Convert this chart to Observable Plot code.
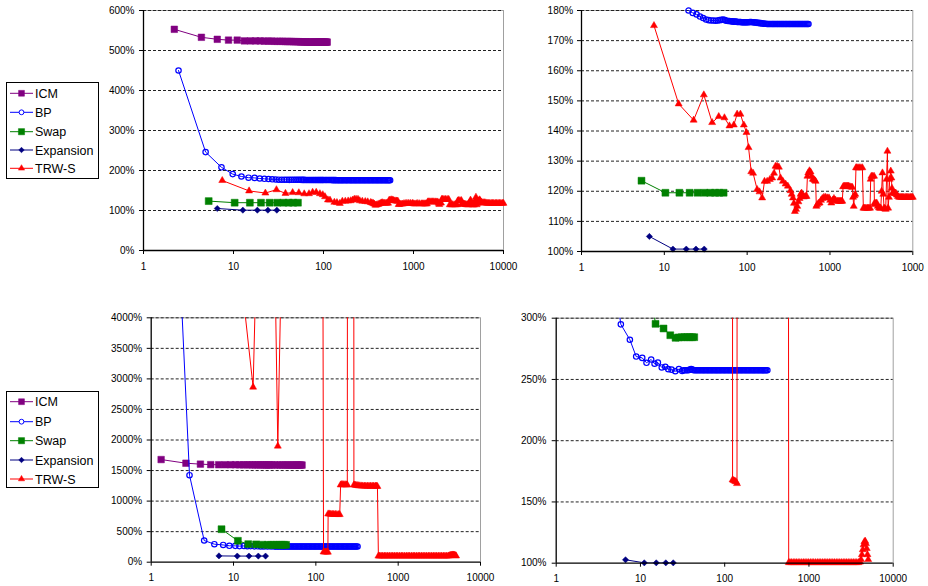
<!DOCTYPE html>
<html><head><meta charset="utf-8">
<script src="https://cdn.jsdelivr.net/npm/d3@7"></script>
<script src="https://cdn.jsdelivr.net/npm/@observablehq/plot@0.6"></script>
<style>
body{margin:0;background:#fff;}
#root{position:relative;width:928px;height:586px;overflow:hidden;font-family:"Liberation Sans",Arial,sans-serif;}
.panel{position:absolute;}
.legend{position:absolute;}
</style></head><body><div id="root"></div>
<script>
// ---- series metadata ----
const seriesNames = ["ICM", "BP", "Swap", "Expansion", "TRW-S"];
const seriesColors = ["#800080", "#0000ff", "#008000", "#000080", "#ff0000"];
const seriesSymbols = ["square", "circle", "square", "diamond2", "triangle"];
const seriesR = [3.7, 2.7, 3.9, 2.8, 2.6];
const seriesFilled = [true, false, true, true, true];

// ---- axis ticks ----
const xTicks = [1, 10, 100, 1000, 10000];
const xLabels = ["1", "10", "100", "1000", "10000"];
const xLabelsTopRight = ["1", "10", "100", "1000", "1000"];
const yTicksTopLeft = [0, 100, 200, 300, 400, 500, 600];
const yTicksTopRight = [100, 110, 120, 130, 140, 150, 160, 170, 180];
const yTicksBottomLeft = [0, 500, 1000, 1500, 2000, 2500, 3000, 3500, 4000];
const yTicksBottomRight = [100, 150, 200, 250, 300];

// ---- top problem: [time, energy %] ----
const topICM = [[2.2,553],[4.4,533],[6.6,528],[8.8,526],[11,526],[13.2,524],[15.4,524],[17.6,524],[19.8,524],[22,523.5],[24.2,523.5],[26.4,523.5],[28.6,523],[30.8,523],[33,523],[35.2,523],[37.4,522.5],[39.6,522.5],[41.8,522.5],[44,522.5],[46.2,522],[48.4,522],[50.6,522],[52.8,522],[55,521.5],[57.2,521.5],[59.4,521.5],[61.6,521.5],[63.8,521.5],[66,521],[68.2,521],[70.4,521],[72.6,521],[74.8,521],[77,521],[79.2,521],[81.4,521],[83.6,521],[85.8,521],[88,521],[90.2,521],[92.4,521],[94.6,521],[96.8,521],[99,521],[101.2,521],[103.4,521],[105.6,521],[107.8,521],[110,521]];
const topBP = [[2.45,450],[4.9,246],[7.35,208],[9.8,191],[12.25,185],[14.7,182],[17.15,181.5],[19.6,180],[22.05,179.2],[24.5,178.7],[26.95,178],[29.4,177.5],[31.85,177],[34.3,176.8],[36.75,176.7],[39.2,176.7],[41.65,176.6],[44.1,176.7],[46.55,176.8],[49,176.9],[51.45,177],[53.9,176.8],[56.35,176.6],[58.8,176.5],[61,176.5],[63.7,176.4],[66,176.4],[68.6,176.3],[71,176.3],[73.5,176.3],[76,176.2],[78.4,176.2],[81,176.2],[83.3,176.2],[86,176.1],[88.2,176.1],[91,176.1],[93.1,176.1],[96,176.1],[98,176.1],[101,176.1],[105,176.1],[108,176.2],[112,176.2],[116,176.1],[120,176.1],[124,176],[128,176],[132,175.9],[137,175.9],[142,175.8],[147,175.8],[152,175.7],[157,175.7],[162,175.6],[168,175.6],[174,175.5],[180,175.5],[186,175.5],[193,175.5],[200,175.5],[206,175.5],[213,175.5],[220,175.5],[228,175.5],[235,175.5],[243,175.5],[251,175.5],[260,175.5],[268,175.5],[277,175.5],[287,175.5],[296,175.5],[306,175.5],[317,175.5],[327,175.5],[338,175.5],[350,175.5],[362,175.5],[374,175.5],[387,175.5],[400,175.5],[413,175.5],[427,175.5],[441,175.5],[456,175.5],[471,175.5],[487,175.5],[503,175.5],[520,175.5],[535,175.5],[550,175.5]];
const topSwap = [[5.3,123.5],[10.3,119.5],[15.2,119.5],[20.2,119.5],[25.2,119.5],[30.6,119.5],[35.8,119.5],[41,119.5],[46,119.5],[52,119.5]];
const topExpansion = [[6.6,105],[12.7,100.8],[18.4,100.8],[24.1,100.8],[30.3,100.8]];
const topTRWS = [[7.5,175],[14.9,149],[22.6,143.6],[30,152],[37.8,142.8],[45.4,144.8],[53.2,144.4],[61.1,141.7],[69,142],[75.7,145.6],[83,145.6],[91.2,142],[98.2,139.5],[104,134.5],[112,126.5],[118,126],[132,120.6],[141,119.8],[151.8,117.8],[162,123.3],[174.6,123.3],[188,123.9],[200.6,124.4],[211,126],[220,128.3],[230,128.3],[241.7,128],[253,124.4],[270,123.3],[291,122.4],[310,121.7],[334,120.2],[345,119],[357,117.8],[367,116],[377,113.3],[390,114],[403,115],[416,116.5],[430,117.6],[442,119],[454,119.4],[470,118.5],[484,118.1],[503,118.3],[522,118.3],[534,125],[547,126.1],[565,126.8],[583,126.4],[600,125],[620,124],[640,123.9],[655,123.6],[671,123.3],[684,115],[700,115.5],[725,116],[750,116.1],[780,117],[808,117.6],[845,118],[887,118],[930,117.8],[973,117.8],[1005,117],[1038,116.1],[1075,117],[1117,117.6],[1170,117],[1226,116.7],[1260,116.7],[1300,116.7],[1340,116.7],[1375,116.7],[1409,116.7],[1440,121.5],[1476,121.7],[1520,121.7],[1570,121.7],[1622,121.7],[1680,121.7],[1740,121.5],[1800,121.4],[1862,121.3],[1900,118],[1935,115],[1975,118.5],[2020,119],[2060,127.8],[2104,127.8],[2180,127.8],[2260,127.8],[2362,127.8],[2462,127.8],[2530,114.4],[2620,114.4],[2720,114.4],[2830,114.4],[2940,114.4],[3047,114.4],[3100,124],[3162,125],[3280,125],[3406,125],[3440,116],[3470,115.6],[3570,116],[3670,116.1],[3780,115],[3900,114.5],[4000,114.4],[4105,114.4],[4200,120],[4300,126.1],[4400,119],[4500,114.4],[4600,114.2],[4710,114],[4820,124],[4940,133.3],[5035,114.4],[5150,118],[5260,124],[5420,126.7],[5520,124.4],[5600,121],[5680,119.4],[5800,119.4],[5950,119.4],[6100,119.2],[6225,119.4],[6400,118.8],[6600,118.3],[6835,118],[7050,118],[7300,118],[7550,118],[7800,118],[8100,118],[8400,118],[8700,118],[9000,118],[9350,118],[9700,118],[10000,118]];

// ---- bottom problem: [time, energy %] ----
const botICM = [[1.32,1680],[2.64,1620],[3.96,1605],[5.28,1597],[6.6,1595],[7.92,1595],[9.24,1595],[10.56,1595],[11.88,1594],[13.2,1594],[14.52,1594],[15.84,1594],[17.16,1593],[18.48,1593],[19.8,1593],[21.12,1593],[22.44,1593],[23.76,1592],[25.08,1592],[26.4,1592],[27.72,1592],[29.04,1592],[31.68,1592],[34.32,1591],[36.96,1591],[39.6,1591],[42.24,1591],[44.88,1591],[47.52,1590],[50.16,1590],[52.8,1590],[55.44,1590],[58.08,1590],[60.72,1590],[63.36,1590],[66,1590],[68,1590]];
const botBP = [[1.46,10200],[2.92,1424],[4.4,355],[5.85,295],[7.49,282.4],[8.9,268.7],[10.5,267.6],[11.8,263.6],[13.4,266.3],[14.7,262.8],[16.1,263.8],[17.9,259.8],[19.7,260.3],[21.4,258.4],[23.4,258],[25.9,256.7],[28.6,258.4],[31.3,257],[32.6,257.5],[34,257.5],[35.5,257.5],[37,257.5],[38.5,258],[40,258.5],[41.5,258],[43,257.5],[44.7,257.5],[46.5,257.5],[48.2,257.5],[50,257.5],[52,257.5],[54,257.5],[56,257.5],[58,257.5],[60.2,257.5],[62.5,257.5],[64.7,257.5],[67,257.5],[69.5,257.5],[72,257.5],[74.7,257.5],[77.5,257.5],[80.2,257.5],[83,257.5],[86,257.5],[89,257.5],[92.5,257.5],[96,257.5],[99.5,257.5],[103,257.5],[107,257.5],[111,257.5],[115,257.5],[119,257.5],[123.5,257.5],[128,257.5],[132.5,257.5],[137,257.5],[142,257.5],[147,257.5],[152.5,257.5],[158,257.5],[164,257.5],[170,257.5],[176.5,257.5],[183,257.5],[189.5,257.5],[196,257.5],[203.5,257.5],[211,257.5],[218.5,257.5],[226,257.5],[234.5,257.5],[243,257.5],[252,257.5],[261,257.5],[270.5,257.5],[280,257.5],[290,257.5],[300,257.5],[310.5,257.5],[321,257.5]];
const botSwap = [[7.15,540],[11.3,350],[15.1,295.4],[18.8,291.6],[22.6,286.1],[26.1,284],[28.5,284.3],[31,284.5],[33.5,284.5],[36,284.5],[38.5,284.5],[41,284.5],[43.5,284.5]];
const botExpansion = [[6.65,102.8],[11.1,100.3],[15.4,100.3],[20,100.3],[24.5,100.3]];
const botTRWS = [[7,7700],[17.3,2865],[26,12500],[34.5,1900],[45,10000],[60,9000],[80,9500],[100,9000],[120,9000],[124,168],[128,167.5],[132,167],[136,166.5],[140,165],[141,790],[146,790],[152,786],[158,785],[165,783],[172,783],[180,781],[188,780],[195,780],[200,1265],[206,1270],[213,1270],[220,1268],[228,1268],[236,1266],[241,1265],[243,9000],[288,9000],[290,1265],[298,1262],[307,1258],[318,1255],[330,1252],[343,1250],[357,1248],[372,1247],[388,1246],[405,1245],[423,1245],[442,1245],[462,1245],[483,1245],[505,1245],[528,1245],[545,1245],[560,1240],[575,100.5],[595,100.5],[620,100.5],[650,100.5],[680,100.5],[710,100.5],[745,100.5],[780,100.5],[820,100.5],[860,100.5],[900,100.5],[945,100.5],[990,100.5],[1040,100.5],[1090,100.5],[1140,100.5],[1200,100.5],[1260,100.5],[1320,100.5],[1380,100.5],[1450,100.5],[1520,100.5],[1590,100.5],[1670,100.5],[1750,100.5],[1830,100.5],[1920,100.5],[2010,100.5],[2110,100.5],[2210,100.5],[2320,100.5],[2430,100.5],[2550,100.5],[2670,100.5],[2800,100.5],[2930,100.5],[3070,100.5],[3220,100.5],[3370,100.5],[3530,100.5],[3700,100.5],[3880,100.5],[4050,101],[4150,103],[4250,107],[4350,111],[4450,115],[4550,117.5],[4650,118],[4750,116],[4850,112],[4950,107],[5050,103]];

const topSeries = [topICM, topBP, topSwap, topExpansion, topTRWS];
const botSeries = [botICM, botBP, botSwap, botExpansion, botTRWS];

const root = document.getElementById("root");
const FONT = '"Liberation Sans", Arial, sans-serif';

function panel(o) {
  const [mt, mr, mb, ml] = o.margins;
  const [y0, y1] = o.yDomain;
  const marks = [
    Plot.ruleY([y1], {stroke: "#a0a0a0", strokeWidth: 1}),
    Plot.ruleX([xTicks[xTicks.length - 1]], {stroke: "#a0a0a0", strokeWidth: 1}),
    Plot.ruleY(o.yTicks.filter(t => t > y0), {stroke: "#222", strokeWidth: 1, strokeDasharray: "3,2"}),
  ];
  o.series.forEach((data, i) => {
    marks.push(Plot.line(data, {x: d => d[0], y: d => d[1], stroke: seriesColors[i], strokeWidth: 1, clip: true}));
    // markers are drawn whole, but only for points that fall inside the value range
    marks.push(Plot.dot(data.filter(d => d[1] >= y0 && d[1] <= y1), {
      x: d => d[0], y: d => d[1], symbol: seriesSymbols[i], r: seriesR[i],
      fill: seriesFilled[i] ? seriesColors[i] : "none",
      stroke: seriesColors[i], strokeWidth: seriesFilled[i] ? 0.5 : 1.2
    }));
  });
  marks.push(
    Plot.ruleX([1], {stroke: "#000", strokeWidth: 1.3}),
    Plot.ruleY([y0], {stroke: "#000", strokeWidth: 1.3}),
    Plot.axisY({ticks: o.yTicks, tickSize: 4, tickPadding: o.yPad, tickFormat: d => d + "%", fontSize: 10}),
    Plot.axisX({ticks: xTicks, tickSize: 4, tickPadding: o.xPad, tickFormat: d => o.xLabels[xTicks.indexOf(d)], fontSize: 10})
  );
  const chart = Plot.plot({
    width: o.width, height: o.height,
    marginTop: mt, marginRight: mr, marginBottom: mb, marginLeft: ml,
    x: {type: "log", domain: [1, 10000]},
    y: {domain: o.yDomain},
    style: {fontFamily: FONT, fontSize: "10px", background: "transparent", color: "#000", overflow: "visible"},
    marks
  });
  const div = document.createElement("div");
  div.className = "panel";
  div.style.left = o.left + "px";
  div.style.top = o.top + "px";
  div.appendChild(chart);
  root.appendChild(div);
}

panel({left: 0, top: 0, width: 510, height: 280, margins: [10, 7, 30, 143], yDomain: [0, 600], yTicks: yTicksTopLeft, xLabels, series: topSeries, yPad: 5, xPad: 8});
panel({left: 470, top: 0, width: 458, height: 280, margins: [10, 15.7, 29, 111], yDomain: [100, 180], yTicks: yTicksTopRight, xLabels: xLabelsTopRight, series: topSeries, yPad: 4.3, xPad: 8});
panel({left: 0, top: 300, width: 490, height: 286, margins: [17.3, 10, 24.3, 150.7], yDomain: [0, 4000], yTicks: yTicksBottomLeft, xLabels, series: botSeries, yPad: 5, xPad: 7.5});
panel({left: 490, top: 300, width: 438, height: 286, margins: [17.7, 35.3, 23.3, 65.7], yDomain: [100, 300], yTicks: yTicksBottomRight, xLabels, series: botSeries, yPad: 5.7, xPad: 7.5});

// ---- legends ----
function legend(left, top, rowYs) {
  const w = 93, h = 97;
  const svg = d3.create("svg").attr("width", w).attr("height", h)
    .attr("class", "legend").style("left", left + "px").style("top", top + "px");
  svg.append("rect").attr("x", 0.5).attr("y", 0.5).attr("width", w - 1).attr("height", h - 1)
    .attr("fill", "#fff").attr("stroke", "#000").attr("stroke-width", 1);
  const symMap = {square: d3.symbolSquare, circle: d3.symbolCircle, diamond2: d3.symbolDiamond2, triangle: d3.symbolTriangle};
  seriesNames.forEach((name, i) => {
    const y = rowYs[i];
    const g = svg.append("g").attr("transform", `translate(0,${y})`);
    g.append("line").attr("x1", 4).attr("x2", 27).attr("y1", 0).attr("y2", 0)
      .attr("stroke", seriesColors[i]).attr("stroke-width", 1);
    g.append("path").attr("transform", "translate(15.5,0)")
      .attr("d", d3.symbol(symMap[seriesSymbols[i]], Math.PI * seriesR[i] * seriesR[i] * 0.8)())
      .attr("fill", seriesFilled[i] ? seriesColors[i] : "#fff")
      .attr("stroke", seriesColors[i]).attr("stroke-width", seriesFilled[i] ? 0.5 : 1);
    g.append("text").attr("x", 29).attr("y", 0).attr("dy", "0.36em")
      .attr("font-family", FONT).attr("font-size", 12.5).attr("fill", "#000").text(name);
  });
  root.appendChild(svg.node());
}
legend(6, 82, [11.3, 30.3, 49.7, 68, 86.3]);
legend(6, 391, [10.7, 30.7, 49.7, 69, 88]);
</script>
</body></html>
